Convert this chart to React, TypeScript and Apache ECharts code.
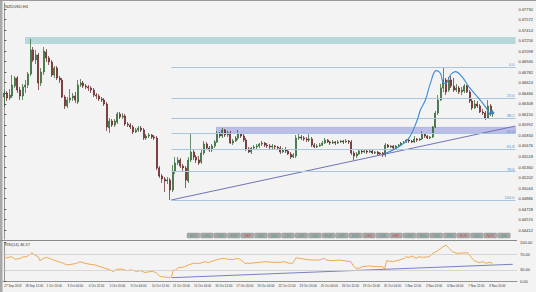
import React, { useEffect, useRef } from 'react';
import * as echarts from 'echarts';

const symbolTitle = 'NZDUSD,H4';
const rsiTitle = 'RSI(14) 46.57';

const timeLabels = ['27 Sep 2018', '28 Sep 12:00', '1 Oct 20:00', '3 Oct 04:00', '4 Oct 12:00', '5 Oct 20:00', '9 Oct 04:00', '10 Oct 12:00', '11 Oct 20:00', '15 Oct 04:00', '16 Oct 12:00', '17 Oct 20:00', '19 Oct 04:00', '22 Oct 12:00', '23 Oct 20:00', '25 Oct 04:00', '26 Oct 12:00', '29 Oct 20:00', '31 Oct 04:00', '1 Nov 12:00', '2 Nov 20:00', '6 Nov 04:00', '7 Nov 12:00', '8 Nov 20:00'];

const priceTicks = [0.67730, 0.67572, 0.67414, 0.67256, 0.67098, 0.66940, 0.66782, 0.66624, 0.66466, 0.66308, 0.66150, 0.65992, 0.65834, 0.65676, 0.65518, 0.65360, 0.65202, 0.65044, 0.64886, 0.64728, 0.64570, 0.64412];
const rsiTicks = [0, 30, 70, 100];

// [open, close, low, high] in 1e-5 units
const candles: number[][] = [
  [66410, 66470, 66260, 66515], [66470, 66395, 66350, 66500], [66395, 66440, 66365, 66530], [66425, 66590, 66395, 66740],
  [66575, 66695, 66545, 66725], [66695, 66515, 66470, 66725], [66515, 66425, 66365, 66560], [66425, 66560, 66365, 66605],
  [66560, 66590, 66470, 66665], [66590, 66755, 66545, 66785], [66755, 67115, 66725, 67280], [67115, 66965, 66935, 67160],
  [66965, 67040, 66905, 67115], [67040, 66620, 66515, 67070], [66620, 66785, 66575, 66845], [66785, 67100, 66740, 67160],
  [67085, 66995, 66935, 67130], [66995, 66935, 66890, 67025], [66935, 66740, 66710, 66965], [66740, 66845, 66695, 66875],
  [66845, 66695, 66665, 66875], [66695, 66665, 66620, 66725], [66665, 66410, 66395, 66695], [66410, 66275, 66230, 66440],
  [66275, 66365, 66245, 66410], [66365, 66395, 66320, 66530], [66395, 66425, 66350, 66470], [66425, 66365, 66320, 66485],
  [66335, 66590, 66305, 66665], [66590, 66620, 66560, 66680], [66620, 66575, 66545, 66650], [66575, 66560, 66530, 66605],
  [66560, 66545, 66500, 66590], [66545, 66515, 66470, 66575], [66515, 66440, 66410, 66545], [66440, 66425, 66380, 66470],
  [66425, 66380, 66350, 66455], [66380, 66365, 66335, 66410], [66365, 66305, 66275, 66395], [66305, 65960, 65900, 66335],
  [65945, 66050, 65870, 66095], [66050, 65990, 65960, 66080], [65990, 66050, 65960, 66080], [66035, 66155, 66005, 66185],
  [66155, 66110, 66080, 66185], [66110, 66125, 66080, 66170], [66125, 66005, 65975, 66155], [66005, 65990, 65960, 66035],
  [65990, 65960, 65930, 66020], [65960, 65885, 65855, 65990], [65885, 65915, 65870, 65945], [65915, 65945, 65885, 65975],
  [65945, 65915, 65885, 65975], [65915, 65795, 65765, 65945], [65795, 65825, 65765, 65855], [65825, 65840, 65795, 65870],
  [65840, 65810, 65780, 65855], [65810, 65795, 65765, 65840], [65795, 65345, 65315, 65825], [65345, 65225, 65195, 65375],
  [65225, 65180, 65120, 65255], [65180, 65150, 64985, 65210], [65150, 65165, 65105, 65210], [65165, 65015, 64865, 65195],
  [65015, 65300, 64985, 65390], [65300, 65420, 65255, 65510], [65420, 65465, 65390, 65510], [65465, 65375, 65345, 65495],
  [65375, 65345, 65300, 65405], [65345, 65165, 65045, 65375], [65150, 65465, 65120, 65510], [65465, 65585, 65435, 65855],
  [65585, 65510, 65465, 65615], [65510, 65465, 65420, 65540], [65465, 65420, 65390, 65525], [65435, 65570, 65405, 65615],
  [65570, 65705, 65540, 65750], [65705, 65645, 65615, 65735], [65645, 65615, 65585, 65675], [65615, 65675, 65585, 65705],
  [65675, 65735, 65645, 65765], [65735, 65855, 65720, 65900], [65855, 65825, 65795, 65885], [65825, 65915, 65795, 65945],
  [65915, 65840, 65810, 65930], [65840, 65870, 65810, 65900], [65870, 65720, 65705, 65900], [65720, 65750, 65690, 65780],
  [65750, 65795, 65735, 65825], [65795, 65855, 65765, 65915], [65855, 65825, 65795, 65870], [65825, 65765, 65735, 65855],
  [65765, 65630, 65600, 65795], [65630, 65585, 65570, 65660], [65585, 65645, 65555, 65660], [65645, 65660, 65615, 65690],
  [65660, 65675, 65630, 65705], [65675, 65705, 65645, 65720], [65705, 65720, 65675, 65750], [65720, 65690, 65660, 65735],
  [65690, 65675, 65645, 65720], [65675, 65660, 65630, 65705], [65660, 65675, 65630, 65705], [65675, 65660, 65630, 65690],
  [65660, 65645, 65615, 65675], [65645, 65585, 65555, 65675], [65585, 65615, 65570, 65645], [65615, 65600, 65570, 65660],
  [65600, 65555, 65540, 65630], [65555, 65510, 65480, 65585], [65510, 65540, 65495, 65570], [65525, 65795, 65495, 65840],
  [65795, 65810, 65765, 65870], [65810, 65795, 65765, 65840], [65795, 65780, 65750, 65825], [65780, 65765, 65735, 65810],
  [65765, 65780, 65735, 65870], [65780, 65690, 65660, 65810], [65690, 65660, 65645, 65720], [65660, 65675, 65645, 65705],
  [65675, 65690, 65660, 65720], [65690, 65720, 65675, 65750], [65720, 65765, 65705, 65795], [65765, 65735, 65720, 65780],
  [65735, 65720, 65690, 65750], [65720, 65735, 65705, 65765], [65735, 65720, 65690, 65750], [65720, 65735, 65705, 65765],
  [65735, 65750, 65720, 65765], [65750, 65735, 65705, 65765], [65735, 65750, 65720, 65780], [65750, 65735, 65705, 65765],
  [65735, 65570, 65540, 65765], [65570, 65525, 65465, 65600], [65525, 65555, 65495, 65585], [65555, 65600, 65540, 65630],
  [65600, 65585, 65555, 65615], [65585, 65600, 65570, 65615], [65600, 65585, 65555, 65615], [65585, 65600, 65570, 65615],
  [65600, 65570, 65555, 65615], [65570, 65585, 65555, 65600], [65585, 65555, 65540, 65600], [65555, 65570, 65540, 65585],
  [65570, 65540, 65510, 65585], [65540, 65690, 65510, 65720], [65690, 65660, 65645, 65705], [65660, 65675, 65645, 65690],
  [65675, 65645, 65630, 65690], [65645, 65675, 65645, 65690], [65675, 65690, 65660, 65705], [65690, 65720, 65675, 65735],
  [65720, 65735, 65705, 65750], [65735, 65765, 65720, 65780], [65765, 65750, 65720, 65780], [65750, 65735, 65720, 65765],
  [65735, 65780, 65720, 65825], [65780, 65765, 65735, 65795], [65765, 65780, 65750, 65795], [65780, 65855, 65765, 65900],
  [65855, 65825, 65795, 65870], [65825, 65795, 65780, 65840], [65795, 65810, 65780, 65825], [65810, 65960, 65795, 65975],
  [65960, 66170, 65945, 66200], [66170, 66365, 66140, 66440], [66365, 66545, 66350, 66605], [66545, 66665, 66485, 66860],
  [66665, 66485, 66440, 66695], [66515, 66665, 66485, 66710], [66665, 66575, 66545, 66725], [66575, 66515, 66485, 66695],
  [66515, 66545, 66485, 66605], [66545, 66485, 66455, 66575], [66485, 66515, 66440, 66560], [66500, 66575, 66470, 66605],
  [66575, 66485, 66470, 66590], [66485, 66350, 66320, 66515], [66350, 66245, 66215, 66380], [66245, 66305, 66230, 66365],
  [66305, 66275, 66245, 66350], [66275, 66185, 66170, 66305], [66185, 66170, 66140, 66230], [66170, 66095, 66065, 66200],
  [66095, 66275, 66080, 66365], [66275, 66155, 66125, 66305], [66155, 66185, 66110, 66215]
];

// RSI(14) readings: [bar position, value]
const rsiPoints: number[][] = [
  [0, 59], [0.9, 60.8], [2.8, 63.3], [4.1, 56.7], [6.0, 59], [7.2, 63.3], [8.5, 63.3], [10.4, 73.3], [11.6, 67.5], [12.9, 63.3],
  [13.5, 53.3], [14.8, 59], [16.1, 61.7], [17.3, 59], [18.6, 55], [20.5, 50.8], [22.4, 46.7], [23.7, 42.5], [25.6, 44.2], [27.5, 46.7],
  [28.7, 50.8], [30.6, 46.7], [32.5, 44.2], [34.4, 42.5], [36.3, 38.3], [38.2, 34.2], [40.1, 30], [41.4, 25.8], [42.6, 31.7], [44.5, 31.7],
  [46.4, 28.3], [48.3, 30], [50.2, 25.8], [51.5, 28.3], [53.4, 23.3], [55.3, 25.8], [56.5, 25.8], [57.8, 21.7], [59.1, 13.3], [61.0, 11.7],
  [62.9, 10.8], [63.5, 13.3], [64.1, 30], [64.8, 28.3], [66.0, 35.8], [67.9, 36.7], [69.8, 42.5], [71.7, 46.7], [74.2, 46.7], [76.1, 50.8],
  [77.4, 48.3], [79.3, 53.3], [81.2, 56.7], [83.1, 59.2], [85.0, 56.7], [86.9, 56.7], [88.8, 59.2], [90.1, 53.3], [91.3, 46.7], [93.2, 46.7],
  [95.7, 48.3], [99.3, 50.8], [101.8, 49.2], [104.3, 49.2], [106.2, 50.8], [108.1, 46.7], [109.4, 46.7], [110.7, 60.8], [111.9, 59.2], [114.5, 56.7],
  [117.0, 55], [119.5, 55], [121.4, 59.2], [122.0, 55], [124.6, 53.3], [127.1, 55], [129.6, 52.5], [131.5, 50.8], [132.4, 40], [133.4, 34.2],
  [134.7, 34.2], [136.0, 38.3], [138.5, 40], [141.0, 38.3], [143.6, 38.3], [144.2, 31.7], [145.1, 53.3], [147.3, 50.8], [149.8, 55], [151.7, 59.2],
  [152.4, 63.3], [153.6, 61.7], [154.9, 65], [156.2, 59.2], [157.4, 63.3], [158.7, 61.7], [161.2, 63.3], [162.5, 71.7], [164.4, 78.3], [166.3, 88.3],
  [167.6, 92.5], [168.8, 84.2], [170.1, 75.8], [172.0, 71.7], [173.9, 73.3], [175.8, 73.3], [177.0, 63.3], [178.3, 53.3], [180.2, 48.3], [181.5, 50.8],
  [182.7, 46.7], [184.0, 49.2], [185.3, 46.7]
];

// hand-drawn double arc: [bar position, price]
const arcPoints: number[][] = [
  [145.1, 0.65566], [150.1, 0.65665], [153.9, 0.65790], [157.1, 0.66065], [158.3, 0.66215], [160.2, 0.66365], [162.1, 0.66615],
  [164.3, 0.66805], [165.9, 0.66765], [167.2, 0.66615], [168.0, 0.66615], [169.7, 0.66740], [171.6, 0.66790], [174.1, 0.66715],
  [176.7, 0.66565], [180.5, 0.66390], [183.0, 0.66265], [184.9, 0.66140]
];

const fibHigh = 0.66860;
const fibLow = 0.64865;
const fibStart = 63.6;
const fibRatios = [0, 23.6, 38.2, 50, 61.8, 78.6, 100];
const fibLabels = ['0.0', '23.6', '38.2', '50.0', '61.8', '78.6', '100.0'];

const priceTrend = [[63.5, 0.64865], [194.5, 0.65975]];
const rsiTrend = [[63.5, 10.2], [192.9, 44.2]];
const supplyZone = [[7.9, 0.67310], [194.5, 0.67205]];
const demandZone = [[80.7, 0.65955], [194.5, 0.65865]];

const eventTags = ['NZD', 'USD', 'USD', 'EUR', 'GBP', 'USD', 'NZD', 'CNY', 'USD', 'USD', 'EUR', 'USD', 'NZD', 'USD', 'USD', 'GBP', 'USD', 'NZD', 'USD', 'USD', 'EUR', 'USD', 'NZD', 'USD'];
const eventHigh = [false, false, false, false, true, false, false, false, false, false, false, false, false, true, false, true, false, false, false, false, true, false, true, false];

const SLOTS = 195;
const END = SLOTS - 0.5;
const FONT = 'Liberation Sans';

function buildOption() {
  const categories = Array.from({ length: SLOTS }, (_, i) =>
    i % 8 === 0 && i / 8 < timeLabels.length ? timeLabels[i / 8] : ''
  );
  const ohlc = candles.map((c) => c.map((v) => v / 100000));

  const fibLines = fibRatios.map((r, k) => {
    const v = fibHigh - ((fibHigh - fibLow) * r) / 100;
    return [
      {
        coord: [fibStart, v],
        label: {
          show: true,
          formatter: fibLabels[k],
          position: 'insideEndTop',
          distance: [1, 0.5],
          fontSize: 4,
          fontFamily: FONT,
          color: '#5b8fd0',
        },
      },
      { coord: [END, v] },
    ];
  });

  const boxes: any[] = [];
  eventTags.forEach((t, k) => {
    const x = 187 + k * 13.5;
    boxes.push({
      type: 'rect',
      shape: { x, y: 233, width: 12.8, height: 5, r: 1 },
      style: { fill: '#a9a9a9', stroke: '#8c8c8c', lineWidth: 0.4 },
      silent: true,
      z: 20,
    });
    boxes.push({
      type: 'text',
      x: x + 6.4,
      y: 235.6,
      style: {
        text: t,
        fontSize: 3.5,
        fontFamily: FONT,
        fill: eventHigh[k] ? '#c24a4a' : '#3d9a8a',
        align: 'center',
        verticalAlign: 'middle',
      },
      silent: true,
      z: 21,
    });
  });

  return {
    animation: false,
    backgroundColor: '#f3f3f3',
    textStyle: { fontFamily: FONT },
    grid: [
      { left: 3, top: 3, width: 514, height: 236 },
      { left: 3, top: 242.3, width: 514, height: 39.4 },
    ],
    xAxis: [
      { type: 'category', gridIndex: 0, data: categories, boundaryGap: true, show: false },
      { type: 'value', gridIndex: 0, min: -0.5, max: END, show: false },
      {
        type: 'category',
        gridIndex: 1,
        data: categories,
        boundaryGap: true,
        axisLine: { lineStyle: { color: '#7a7a7a', width: 0.8 } },
        axisTick: { interval: (i: number) => i % 8 === 0, length: 2, lineStyle: { color: '#555' } },
        axisLabel: { interval: 0, fontSize: 3, color: '#333', align: 'left', margin: 2.5, fontFamily: FONT },
        splitLine: { show: false },
      },
      { type: 'value', gridIndex: 1, min: -0.5, max: END, show: false },
    ],
    yAxis: [
      {
        type: 'value',
        gridIndex: 0,
        position: 'right',
        min: 0.6428,
        max: 0.6782,
        splitLine: { show: false },
        axisLine: { show: true, lineStyle: { color: '#7a7a7a', width: 0.8 } },
        axisTick: { show: true, customValues: priceTicks, length: 2, lineStyle: { color: '#555' } },
        axisLabel: {
          customValues: priceTicks,
          formatter: (v: number) => v.toFixed(5),
          fontSize: 4,
          color: '#333',
          margin: 3,
          fontFamily: FONT,
        },
      },
      {
        type: 'value',
        gridIndex: 1,
        position: 'right',
        min: 0,
        max: 100,
        splitLine: { show: false },
        axisLine: { show: true, lineStyle: { color: '#7a7a7a', width: 0.8 } },
        axisTick: { show: true, customValues: rsiTicks, length: 2, lineStyle: { color: '#555' } },
        axisLabel: {
          customValues: rsiTicks,
          formatter: (v: number) => v.toFixed(2),
          fontSize: 4,
          color: '#333',
          margin: 3,
          fontFamily: FONT,
        },
      },
    ],
    series: [
      {
        name: 'levels',
        type: 'line',
        xAxisIndex: 1,
        yAxisIndex: 0,
        data: [],
        z: 1,
        silent: true,
        markArea: {
          silent: true,
          data: [
            [{ coord: supplyZone[0], itemStyle: { color: '#b6d8db' } }, { coord: supplyZone[1] }],
            [
              { coord: demandZone[0], itemStyle: { color: '#bdbee8', borderColor: '#9a9cd6', borderWidth: 0.5 } },
              { coord: demandZone[1] },
            ],
          ],
        },
        markLine: {
          silent: true,
          symbol: ['none', 'none'],
          lineStyle: { color: '#a8c6e0', width: 1, type: 'solid' },
          data: fibLines,
        },
      },
      {
        name: 'price',
        type: 'candlestick',
        xAxisIndex: 0,
        yAxisIndex: 0,
        data: ohlc,
        barWidth: 1.5,
        z: 3,
        itemStyle: {
          color: '#3a8f3e',
          color0: '#a1292b',
          borderColor: '#2f5f2f',
          borderColor0: '#5e2020',
          borderWidth: 0.7,
        },
      },
      {
        name: 'trend',
        type: 'line',
        xAxisIndex: 1,
        yAxisIndex: 0,
        data: priceTrend,
        symbol: 'none',
        z: 4,
        lineStyle: { color: '#6f72bb', width: 1 },
      },
      {
        name: 'arc',
        type: 'line',
        xAxisIndex: 1,
        yAxisIndex: 0,
        smooth: 0.4,
        z: 5,
        data: arcPoints.map((p, k) =>
          k === arcPoints.length - 1
            ? { value: p, symbol: 'arrow', symbolSize: [4, 5], symbolRotate: 150 }
            : { value: p, symbol: 'none' }
        ),
        showSymbol: true,
        itemStyle: { color: '#3d8ad6' },
        lineStyle: { color: '#3d8ad6', width: 1.1 },
      },
      {
        name: 'rsi',
        type: 'line',
        xAxisIndex: 3,
        yAxisIndex: 1,
        data: rsiPoints,
        symbol: 'none',
        z: 4,
        lineStyle: { color: '#eda23c', width: 0.9 },
        markLine: {
          silent: true,
          symbol: ['none', 'none'],
          label: { show: false },
          lineStyle: { color: '#cfcfcf', width: 0.8, type: 'solid' },
          data: [{ yAxis: 70 }, { yAxis: 30 }],
        },
      },
      {
        name: 'rsiTrend',
        type: 'line',
        xAxisIndex: 3,
        yAxisIndex: 1,
        data: rsiTrend,
        symbol: 'none',
        z: 3,
        lineStyle: { color: '#7a7ec6', width: 1 },
      },
    ],
    graphic: [
      { type: 'rect', shape: { x: 0, y: 0, width: 2.5, height: 292 }, style: { fill: '#a8a8a8' }, silent: true },
      { type: 'line', shape: { x1: 0, y1: 0.5, x2: 536, y2: 0.5 }, style: { stroke: '#9a9a9a', lineWidth: 1 }, silent: true },
      { type: 'line', shape: { x1: 0, y1: 240.5, x2: 517, y2: 240.5 }, style: { stroke: '#8a8a8a', lineWidth: 1 }, silent: true },
      {
        type: 'text',
        x: 5,
        y: 4,
        style: { text: symbolTitle, fontSize: 4, fontFamily: FONT, fill: '#333' },
        silent: true,
      },
      {
        type: 'text',
        x: 5,
        y: 242.5,
        style: { text: rsiTitle, fontSize: 4, fontFamily: FONT, fill: '#333' },
        silent: true,
      },
      ...boxes,
    ],
  };
}

export default function App() {
  const ref = useRef<HTMLDivElement>(null);
  useEffect(() => {
    document.body.style.margin = '0';
    const chart = echarts.init(ref.current as HTMLDivElement, null, { renderer: 'svg' });
    chart.setOption(buildOption() as any);
    return () => chart.dispose();
  }, []);
  return <div ref={ref} style={{ width: 536, height: 292, background: '#f3f3f3' }} />;
}
